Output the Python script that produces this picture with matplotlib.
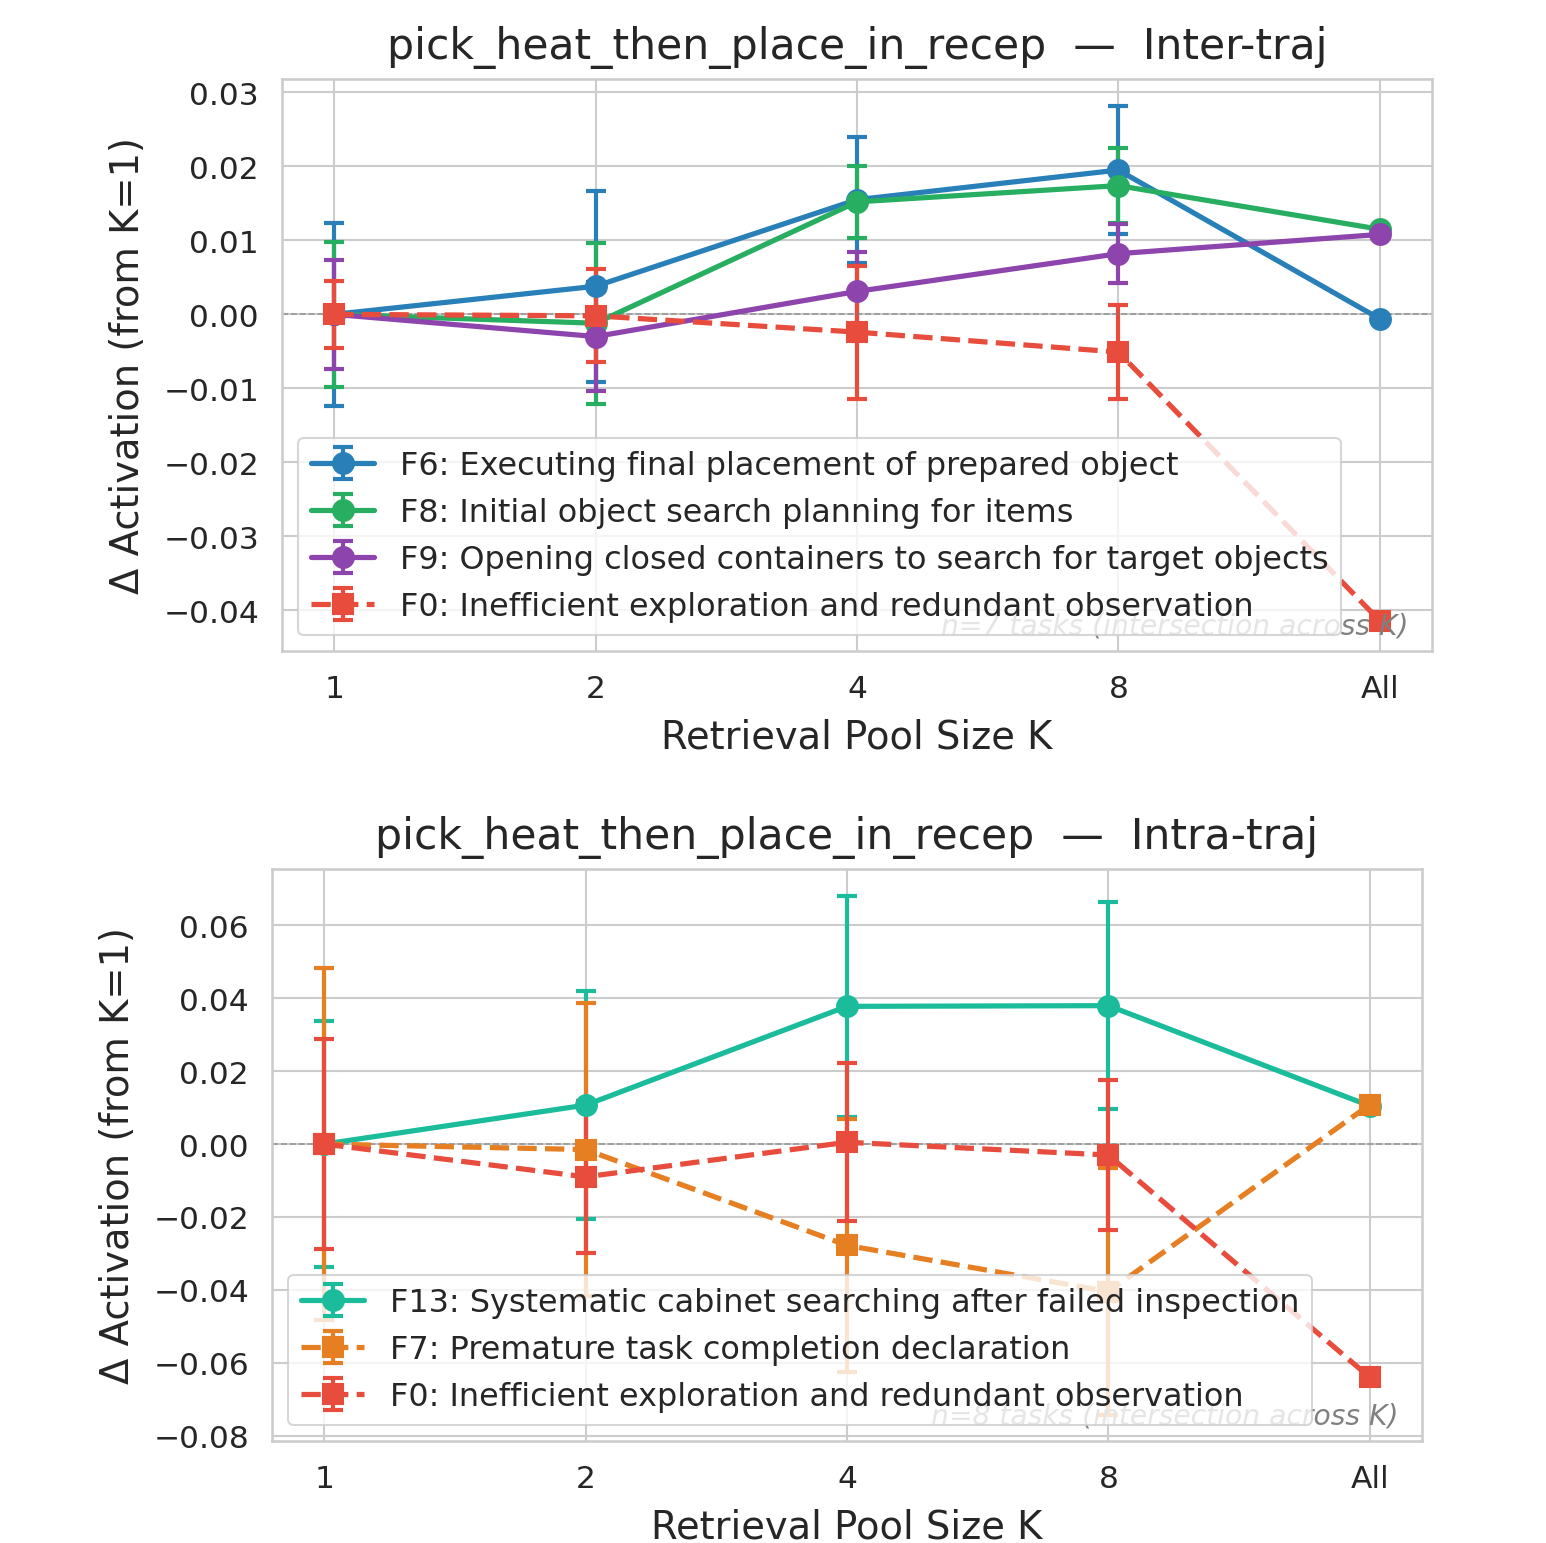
"""Delta activation vs retrieval pool size K for pick_heat_then_place_in_recep"""

import matplotlib
matplotlib.use("Agg")
import matplotlib.pyplot as plt
import seaborn as sns

k_labels = ["1", "2", "4", "8", "All"]

# Inter-traj panel
inter_f6 = [0.0, 0.0038, 0.0155, 0.0195, -0.0006]
inter_f6_err = [0.0124, 0.0129, 0.0085, 0.0087, 0.0]
inter_f8 = [0.0, -0.0012, 0.0152, 0.0174, 0.0115]
inter_f8_err = [0.0098, 0.0109, 0.0049, 0.0051, 0.0]
inter_f9 = [0.0, -0.0030, 0.0031, 0.0082, 0.0108]
inter_f9_err = [0.0074, 0.0074, 0.0053, 0.0040, 0.0]
inter_f0 = [0.0, -0.0002, -0.0024, -0.0051, -0.0414]
inter_f0_err = [0.0045, 0.0063, 0.0090, 0.0063, 0.0]

# Intra-traj panel
intra_f13 = [0.0, 0.0107, 0.0378, 0.0380, 0.0105]
intra_f13_err = [0.0337, 0.0314, 0.0303, 0.0285, 0.0]
intra_f7 = [0.0, -0.0015, -0.0278, -0.0405, 0.0108]
intra_f7_err = [0.0483, 0.0402, 0.0348, 0.0338, 0.0]
intra_f0 = [0.0, -0.0090, 0.0005, -0.0030, -0.0640]
intra_f0_err = [0.0289, 0.0208, 0.0217, 0.0205, 0.0]

inter_series = [
    ("F6: Executing final placement of prepared object", inter_f6, inter_f6_err, "#2980b9", "o", "-"),
    ("F8: Initial object search planning for items", inter_f8, inter_f8_err, "#27ae60", "o", "-"),
    ("F9: Opening closed containers to search for target objects", inter_f9, inter_f9_err, "#8e44ad", "o", "-"),
    ("F0: Inefficient exploration and redundant observation", inter_f0, inter_f0_err, "#e74c3c", "s", "--"),
]
intra_series = [
    ("F13: Systematic cabinet searching after failed inspection", intra_f13, intra_f13_err, "#1abc9c", "o", "-"),
    ("F7: Premature task completion declaration", intra_f7, intra_f7_err, "#e67e22", "s", "--"),
    ("F0: Inefficient exploration and redundant observation", intra_f0, intra_f0_err, "#e74c3c", "s", "--"),
]


def draw_panel(ax, series, title, note):
    x = range(len(k_labels))
    for label, vals, errs, color, marker, ls in series:
        ax.errorbar(x, vals, yerr=errs, label=label, color=color, marker=marker,
                    linestyle=ls, linewidth=2.5, markersize=10, capsize=5,
                    elinewidth=2, capthick=2)
    ax.axhline(0, color="gray", linestyle="--", linewidth=0.8, alpha=0.7)
    ax.set_xticks(list(x))
    ax.set_xticklabels(k_labels)
    ax.set_title(title, fontsize=20.4, pad=10)
    ax.set_xlabel("Retrieval Pool Size K", fontsize=18.5, labelpad=7)
    ax.set_ylabel("Δ Activation (from K=1)", fontsize=18.5, labelpad=8)
    ax.tick_params(labelsize=15, pad=5)
    ax.text(0.98, 0.02, note, transform=ax.transAxes, ha="right", va="bottom",
            fontsize=13.5, style="italic", color="gray")
    leg = ax.legend(loc="lower left", fontsize=15.3, framealpha=0.8)
    leg.set_zorder(5)


def main():
    sns.set_theme(style="whitegrid")
    fig = plt.figure(figsize=(10.313, 10.293), dpi=150)
    ax1 = fig.add_axes([282 / 1547, 1 - 652 / 1544, 1150 / 1547, 572 / 1544])
    ax2 = fig.add_axes([272 / 1547, 1 - 1442 / 1544, 1150 / 1547, 572 / 1544])
    draw_panel(ax1, inter_series, "pick_heat_then_place_in_recep  —  Inter-traj",
               "n=7 tasks (intersection across K)")
    draw_panel(ax2, intra_series, "pick_heat_then_place_in_recep  —  Intra-traj",
               "n=8 tasks (intersection across K)")
    ax1.set_ylim(-0.0455, 0.0318)
    ax2.set_ylim(-0.0815, 0.0755)
    fig.savefig("out.png", dpi=150)


main()
